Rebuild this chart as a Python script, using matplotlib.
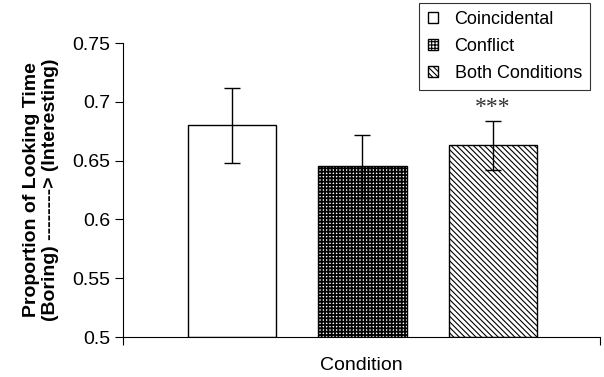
import matplotlib.pyplot as plt
import matplotlib as mpl

mpl.rcParams['font.family'] = ['Liberation Sans', 'DejaVu Sans']
mpl.rcParams['hatch.linewidth'] = 0.8

conditions = ["Coincidental", "Conflict", "Both Conditions"]
means = [0.680, 0.645, 0.663]
err_up = [0.032, 0.027, 0.021]
err_down = [0.032, 0.027, 0.021]
hatches = [None, "+++++", "\\\\\\\\\\\\"]
hatch_lw = [0.8, 1.3, 0.8]
yticks = [0.5, 0.55, 0.6, 0.65, 0.7, 0.75]

fig = plt.figure(figsize=(6.04, 3.77), dpi=100)
ax = fig.add_axes([123 / 604, 40 / 377, 477 / 604, 294 / 377])

xs = range(len(conditions))
for x, m, h, hl, lab in zip(xs, means, hatches, hatch_lw, conditions):
    with mpl.rc_context({"hatch.linewidth": hl}):
        bars = ax.bar(x, m - 0.5, bottom=0.5, width=0.675, facecolor="white",
                      edgecolor="black", linewidth=1.0, hatch=h, label=lab,
                      zorder=2)
    for b in bars:
        if hasattr(b, "set_hatch_linewidth"):
            b.set_hatch_linewidth(hl)
ax.errorbar(list(xs), means, yerr=[err_down, err_up], fmt="none",
            ecolor="black", elinewidth=1.0, capsize=6, capthick=1.0, zorder=3)

ax.text(2, means[2] + err_up[2] + 0.002, "***", ha="center", va="bottom",
        fontsize=17, family="Liberation Serif", color="#333333")

ax.set_ylim(0.5, 0.75)
ax.set_xlim(-0.835, 2.82)
ax.set_yticks(yticks)
ax.set_yticklabels(["0.5", "0.55", "0.6", "0.65", "0.7", "0.75"])
ax.set_xticks([-0.835, 2.82])
ax.set_xticklabels(["", ""])
ax.tick_params(axis="y", direction="out", length=6, labelsize=14, pad=3)
ax.tick_params(axis="x", direction="out", length=6)
ax.spines["top"].set_visible(False)
ax.spines["right"].set_visible(False)

ax.set_xlabel("Condition", fontsize=14, labelpad=5)
ax.set_ylabel("Proportion of Looking Time\n(Boring) --------> (Interesting)",
              fontsize=14, fontweight="bold", labelpad=10, linespacing=1.1)

leg = ax.legend(loc="upper right", bbox_to_anchor=(590 / 604, 374 / 377),
                bbox_transform=fig.transFigure, fontsize=13, frameon=True,
                fancybox=False, edgecolor="black", handlelength=0.6,
                handleheight=0.6, handletextpad=0.9, borderpad=0.45,
                labelspacing=0.55, borderaxespad=0)
leg.get_frame().set_linewidth(0.8)

fig.savefig("out.png", dpi=100)
